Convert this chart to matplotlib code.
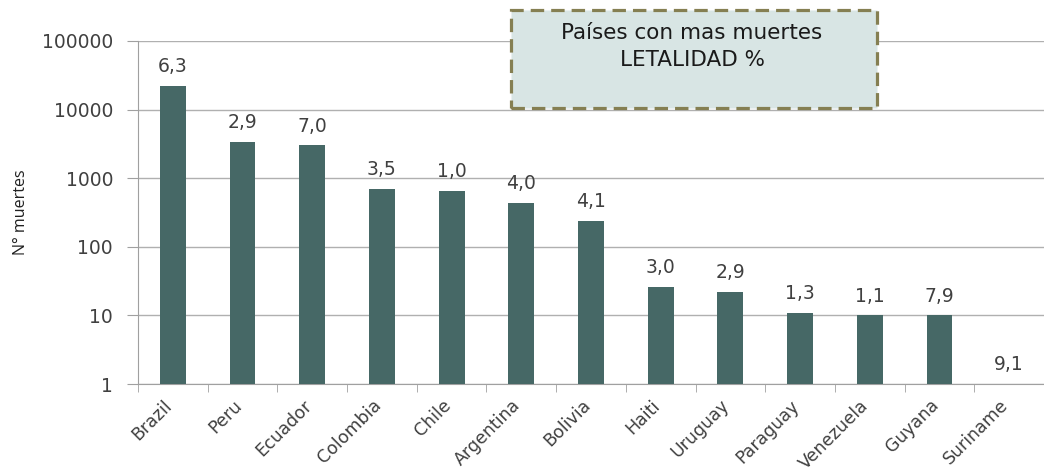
import numpy as np
import matplotlib.pyplot as plt
from matplotlib.patches import Rectangle

paises = ['Brazil', 'Peru', 'Ecuador', 'Colombia', 'Chile', 'Argentina', 'Bolivia',
          'Haiti', 'Uruguay', 'Paraguay', 'Venezuela', 'Guyana', 'Suriname']
muertes = [22000, 3400, 3000, 700, 650, 440, 240, 26, 22, 11, 10, 10, 1]
letalidad = ['6,3', '2,9', '7,0', '3,5', '1,0', '4,0', '4,1',
             '3,0', '2,9', '1,3', '1,1', '7,9', '9,1']

plt.rcParams['font.family'] = ['DejaVu Sans']
fig = plt.figure(figsize=(10.44, 4.67), dpi=100)
ax = fig.add_axes([138/1044, 1-384/467, 1-138/1044, (384-41)/467])

x = np.arange(len(paises))
ax.bar(x, muertes, width=0.37, color='#466866', zorder=3)
ax.set_yscale('log')
ax.set_ylim(1, 100000)
ax.set_xlim(-0.5, 12.37)
ax.set_yticks([1, 10, 100, 1000, 10000, 100000])
ax.set_yticklabels(['1', '10', '100', '1000', '10000', '100000'])
ax.minorticks_off()
ax.yaxis.grid(True, color='#b0b0b0', linewidth=1, zorder=0)

for xi, v, t in zip(x, muertes, letalidad):
    ax.annotate(t, (xi, v), xytext=(0, 7), textcoords='offset points',
                ha='center', va='bottom', fontsize=13.5, color='#404040')

ax.set_xticks(x)
ax.set_xticklabels(paises, rotation=45, ha='right', va='baseline',
                   rotation_mode='anchor', fontsize=12.5, color='#404040')
ax.tick_params(axis='x', length=0, pad=16)
ax.set_xticks(np.arange(-0.5, 13, 1), minor=True)
ax.tick_params(axis='x', which='minor', length=6, color='#a0a0a0', direction='out')
ax.tick_params(axis='y', length=8, color='#a0a0a0', labelsize=13.5, labelcolor='#404040', pad=10)

for s in ['top', 'right']:
    ax.spines[s].set_visible(False)
for s in ['left', 'bottom']:
    ax.spines[s].set_color('#a0a0a0')

ax.set_ylabel('N° muertes', fontsize=11.5, color='#202020', labelpad=9, family='Open Sans')

box = Rectangle((511/1044, 1-108/467), (877-511)/1044, (108-10)/467,
                transform=fig.transFigure, facecolor='#d8e5e4', edgecolor='#857f52',
                linewidth=2.3, linestyle=(0, (4.2, 2.2)), zorder=5)
fig.patches.append(box)
fig.text(692/1044, 1-33/467, 'Países con mas muertes', ha='center', va='center',
         fontsize=15.5, color='#1a1a1a', zorder=6)
fig.text(692/1044, 1-60/467, 'LETALIDAD %', ha='center', va='center',
         fontsize=15.5, color='#1a1a1a', zorder=6)

fig.savefig('out.png', dpi=100)
